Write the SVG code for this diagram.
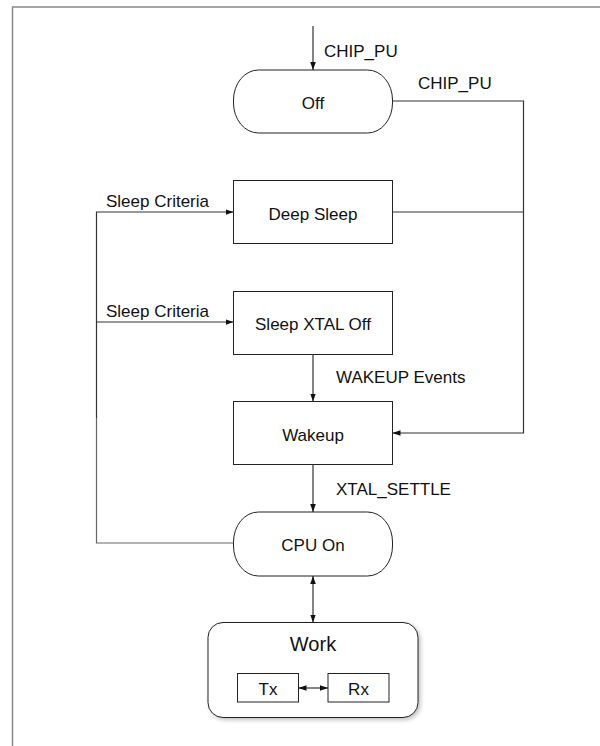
<svg xmlns="http://www.w3.org/2000/svg" width="600" height="746" viewBox="0 0 600 746">
<defs>
<marker id="ah" viewBox="0 0 10 10" refX="10" refY="5" markerWidth="8" markerHeight="8" markerUnits="userSpaceOnUse" orient="auto-start-reverse">
<path d="M0,1.5 L10,5 L0,8.5 Z" fill="#111"/>
</marker>
<filter id="sh" x="-10%" y="-10%" width="130%" height="130%">
<feDropShadow dx="2" dy="2" stdDeviation="2" flood-color="#000" flood-opacity="0.25"/>
</filter>
</defs>
<style>
.n{fill:#fff;stroke:#222;stroke-width:1}
.c{fill:none;stroke:#333;stroke-width:1.2}
.t{font-family:"Liberation Sans",Arial,sans-serif;font-size:17px;fill:#111}
.m{text-anchor:middle}
</style>
<rect x="0" y="0" width="600" height="746" fill="#fff"/>
<g id="frame">
<path d="M12.5,746 V7 H600" fill="none" stroke="#888" stroke-width="1.5"/>
</g>
<g id="off">
<rect class="n" x="233.5" y="70" width="159" height="63" rx="25" ry="30"/>
<text class="t m" x="313" y="109">Off</text>
</g>
<g id="deep-sleep">
<rect class="n" x="233.5" y="180.5" width="159" height="63"/>
<text class="t m" x="313" y="220">Deep Sleep</text>
</g>
<g id="sleep-xtal-off">
<rect class="n" x="233.5" y="291.5" width="159" height="63"/>
<text class="t m" x="313" y="330">Sleep XTAL Off</text>
</g>
<g id="wakeup">
<rect class="n" x="233.5" y="401.5" width="159" height="63"/>
<text class="t m" x="313" y="441">Wakeup</text>
</g>
<g id="cpu-on">
<rect class="n" x="233.5" y="512" width="159" height="64" rx="25" ry="30"/>
<text class="t m" x="313" y="551">CPU On</text>
</g>
<g id="work">
<rect class="n" x="208" y="622.5" width="210" height="95" rx="15" ry="15" filter="url(#sh)"/>
<text class="t m" x="313" y="651" style="font-size:20px">Work</text>
</g>
<g id="tx">
<rect class="n" x="237.5" y="673.5" width="61" height="28.5"/>
<text class="t m" x="268" y="695">Tx</text>
</g>
<g id="rx">
<rect class="n" x="328" y="673.5" width="61" height="28.5"/>
<text class="t m" x="358.5" y="695">Rx</text>
</g>
<g id="connectors">
<path class="c" d="M313,26 V70" marker-end="url(#ah)"/>
<text class="t" x="324" y="57">CHIP_PU</text>
<path class="c" d="M392.5,101 H523.5 V433 H392.5" marker-end="url(#ah)"/>
<text class="t" x="418" y="89">CHIP_PU</text>
<path class="c" d="M392.5,212 H523.5"/>
<path class="c" d="M233.5,543 H96.5 V418" style="stroke:#666"/>
<path class="c" d="M96.5,418 V212 H233.5" marker-end="url(#ah)"/>
<text class="t" x="106" y="207">Sleep Criteria</text>
<path class="c" d="M96.5,322 H233.5" marker-end="url(#ah)"/>
<text class="t" x="106" y="317">Sleep Criteria</text>
<path class="c" d="M313,354.5 V401.5" marker-end="url(#ah)"/>
<text class="t" x="336" y="383">WAKEUP Events</text>
<path class="c" d="M313,464.5 V512" marker-end="url(#ah)"/>
<text class="t" x="336" y="495">XTAL_SETTLE</text>
<path class="c" d="M313,576 V622.5" marker-start="url(#ah)" marker-end="url(#ah)"/>
<path class="c" d="M298.5,688 H328" marker-start="url(#ah)" marker-end="url(#ah)"/>
</g>
</svg>
